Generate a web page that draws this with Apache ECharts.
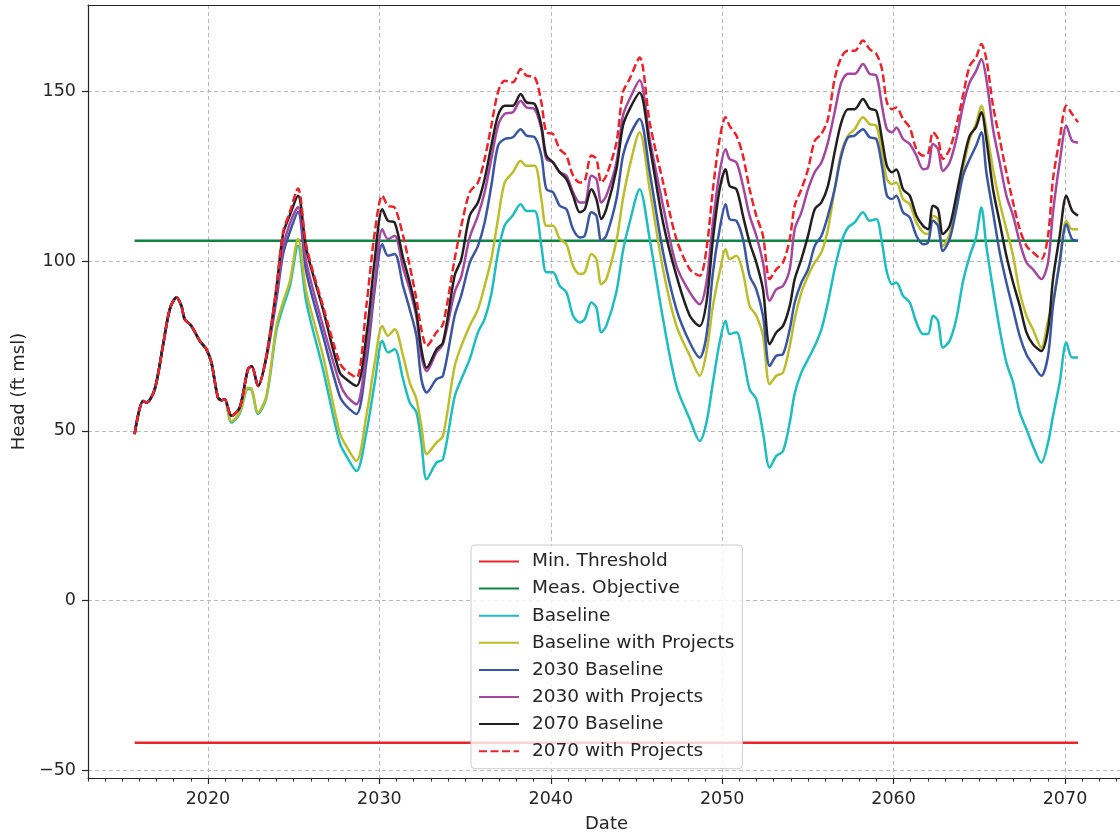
<!DOCTYPE html>
<html>
<head>
<meta charset="utf-8">
<script src="https://cdn.jsdelivr.net/npm/echarts@6/dist/echarts.min.js"></script>
<style>
html,body{margin:0;padding:0;background:#fff;}
#chart{width:1120px;height:840px;}
</style>
</head>
<body>
<div id="chart"></div>
<script>
// ---- data (years as decimal dates) ----
const years = [
2015.72,2016.21,2016.41,2016.89,2017.37,2017.77,2018.16,2018.45,2018.64,2019.03,2019.52,2019.91,2020.20,2020.58,2020.80,2020.97,
2021.37,2021.85,2022.33,2022.55,2022.92,2023.41,2023.99,2024.38,2024.77,2025.25,2025.74,2026.71,2027.68,2028.07,2028.66,2029.24,2029.73,2030.17,2030.50,2030.89,2031.38,2031.77,2032.16,2032.45,2032.76,2033.33,2033.71,
2034.39,2034.78,2035.27,2035.75,2036.14,2036.53,2036.92,2037.31,2037.79,2038.24,2038.58,2039.06,2039.45,2039.74,2040.13,
2040.52,2040.91,2041.30,2041.69,2041.98,2042.37,2042.66,2042.95,2043.24,2043.83,2044.21,2044.60,2045.18,
2045.77,2046.55,2047.33,2048.11,2048.69,2049.08,2049.46,2049.85,2050.20,2050.43,2050.83,2051.21,2051.60,2051.99,2052.38,2052.77,2053.16,2053.55,2053.94,
2054.23,2054.62,2055.01,2055.40,2055.79,2056.17,2056.56,2056.95,2057.34,2057.73,2058.21,2058.60,2058.99,2059.32,2059.61,2059.91,2060.16,
2060.55,2060.94,2061.33,2061.72,2062.01,2062.30,2062.59,2062.88,2063.27,2063.66,2064.05,2064.44,2064.81,
2065.12,2065.41,2065.80,2066.19,2066.58,2066.97,2067.36,2067.75,2068.13,2068.62,2069.01,2069.30,2069.69,2070.08,2070.41,2070.76
];

// shared history before the scenarios diverge
const history = [49.0,58.8,58.3,62.2,75.0,85.8,89.3,86.8,82.9,80.9,76.5,74.0,70.1,59.8,59.0,59.3];

const baseline = history.concat([
52.4,55.0,62.3,62.0,55.0,59.8,79.5,86.5,92.5,104.5,87.8,68.1,46.5,42.6,38.1,49.5,64.2,76.5,73.1,74.0,65.2,58.3,55.4,46.5,35.7,40.6,41.6,
60,65.2,71.1,79.0,82.9,90.3,102.5,110.5,113.5,116.8,114.8,114.8,104.5,96.7,96.7,
92.7,90.8,83.9,81.9,82.9,87.8,86.3,79.0,80.9,91,103,111.4,121.2,
106.5,82.9,63.2,53.4,47.0,52.4,64.2,76.0,82.4,78.5,79.0,72.1,62.2,59.3,49.5,39.1,42.6,44.0,52.4,
61,67.2,71.1,75.0,79.9,87.8,97.6,105.5,109.9,111.4,114.4,111.9,112.4,105.5,96.7,93.2,93.7,
89.8,87.8,81.9,78.5,78.5,83.9,82.4,74.5,76.5,83,94,101.5,107,
115.8,104.5,91.7,79.9,70.1,64.2,55.4,50.5,45.5,40.6,46.5,54.4,64.2,76.0,71.6,71.6
]);

const baselineProjects = history.concat([
52.8,55.4,62.7,62.4,55.4,60.3,80.9,88,94,106.5,90.8,72.1,49.5,45.5,41.1,54.4,70.1,80.9,78.0,79.9,72.1,64.2,59.3,51.4,43.1,46.5,48.5,
69,75,80.9,85.8,92.7,100.6,112.4,123.2,126.2,129.6,128.1,128.1,118.3,110.4,110.4,
106.5,105.0,98.6,96.2,96.7,102.1,100.6,93.2,94.7,106,118.3,128,138.0,
121.2,97.6,80.9,72.1,66.2,73.1,86.8,96.7,103.5,100.6,101.6,96.7,86.8,83.9,78.0,63.7,66.2,67.2,75.0,
82.9,90.8,95.7,99.6,102.6,109.4,121.2,132.1,137.0,138.9,142.4,140.4,139.9,132.1,124.2,122.7,123.2,
118.3,116.8,111.4,108.5,108.0,113.4,112.4,104.5,108.0,117.3,127.1,136.0,140.5,
145.8,138.9,127.1,117.3,109.4,101.6,90.8,83.9,79.9,74.5,82.4,88,99.6,111.9,109.4,109.4
]);

const baseline2030 = history.concat([
54.4,56.8,68.1,69.0,63.2,71.5,88.5,102,108.5,114.5,96.7,78.0,60.3,57.3,54.9,70.1,91.7,105.0,101.6,102.1,92.7,85.8,78,65.2,61.3,65.2,66.2,
83.9,90,99.5,104.5,111.4,122.2,134.0,136.0,136.5,138.9,137.0,136.5,131.1,121.2,120.3,
116.3,115.3,109.4,107.0,107.5,114.4,113.4,106.0,107.5,118.3,131.1,137.0,141.9,
126.2,102.6,85.8,76.0,71.6,78.0,96.7,109.4,116.8,112.4,111.9,106.5,95.7,91.7,83.9,69.1,72.1,72.6,79.9,
87.8,93.7,97.6,104.5,107.5,113.4,121.2,131.1,136.5,137.0,138.9,136.5,136.0,128.1,119.3,118.3,119.3,
114.4,112.9,107.5,105.0,105.5,111.9,110.4,103.0,106.5,115.3,125.2,130.1,134.0,
138.0,126.2,114.4,102.6,93.7,85.8,77.9,72.5,69.5,66.2,72.1,86.8,99.6,110.9,106.5,106.0
]);

const projects2030 = history.concat([
54.4,56.8,68.1,69.0,63.2,71.8,90,104,111,115.9,99.6,80.9,64.2,60.3,57.8,73.1,93.7,109.4,106.5,107.5,98,91.7,83.5,72.1,67.6,73.1,75.5,
90.8,95.5,107,113.4,120.3,130.1,139.9,143.4,143.9,147.3,145.3,144.8,138.9,130.1,129.1,
126.2,125.2,120.3,117.3,117.3,125.2,124.2,117.3,119.3,129.1,142.9,147.8,153.3,
136.0,116.3,98.6,90.8,87.3,93.7,111.4,126.2,133.0,130.1,129.1,122.2,113.4,107.5,99.6,88.3,91.7,92.7,97.6,
109.4,114.4,121.2,126.2,129.1,135.0,143.9,152.7,155.2,155.2,158.1,155.2,154.7,145.8,138.9,138.0,139.4,
136.0,134.5,131.1,127.1,127.6,134.5,133.0,126.6,129.1,136.0,145.8,152.7,156.0,
159.6,153.7,138.9,129.1,119.3,113.4,105.5,99.6,97.6,94.7,99.6,114.4,129.1,139.9,135.5,135.0
]);

const baseline2070 = history.concat([
54.4,56.8,68.1,69.0,63.2,72.1,92,108,113.5,119.3,103.5,85.8,67.2,65.2,63.2,78.0,100.6,115.3,111.9,111.4,101,93.7,85,74.0,68.6,74.0,76,
95.7,100.6,113.4,117.3,124.2,134.0,142.9,145.8,145.8,149.3,146.8,146.3,139.9,131.1,129.1,
126.2,124.2,119.3,114.4,115.3,121.2,118.3,112.4,115.3,127.1,139.9,144.8,149.6,
134.0,111.4,95.7,83.9,80.9,87.8,106.5,121.2,127.1,122.2,121.2,113.4,105.5,99.6,91.7,75.5,79.0,80.9,86.8,
94.7,100.6,107.5,115.3,117.3,122.2,132.1,140.9,144.8,144.8,147.8,145.0,144.3,136.0,128.1,126.2,127.0,
121.2,119.3,113.4,110.4,109.4,116.3,115.3,108.0,110.4,119.3,129.1,137.0,139.5,
143.9,136.0,121.2,111.4,101.6,93.7,86.8,79.0,75.5,73.5,79.9,94.7,107.5,119.3,114.9,113.4
]);

const projects2070 = history.concat([
54.4,56.8,68.1,69.0,63.2,72.1,92,108.5,114.4,121.4,104.5,86.8,70.1,67.6,65.7,86.8,108.5,119.3,116.3,115.8,107.5,98.6,88.8,79.9,75.0,79.0,81.4,
100.6,110.4,120.3,123.2,130.1,139.9,149.8,153.2,152.7,156.6,154.7,154.2,146.8,138.0,137.5,
133.0,131.1,125.2,123.2,123.7,131.1,130.1,123.2,125.2,135.0,149.8,153.7,160.0,
140.9,123.2,106.5,97.6,95.7,103.5,121.2,136.0,142.4,139.9,137.0,131.1,121.2,113.4,107.5,94.7,97.6,99.6,106.5,
116.3,121.2,127.1,135.5,137.5,141.9,153.7,160.1,162.0,162.0,165.0,162.5,161.1,156.6,146.8,144.8,145.3,
141.9,139.4,133.0,131.1,131.6,138.0,136.0,130.1,133.0,139.9,148.8,157.6,160.0,
164.0,159.6,145.8,136.0,126.2,117.3,109.4,104.5,102.6,100.6,107.5,124.2,136.0,145.8,143.4,140.9
]);

const minThreshold = -42;
const measObjective = 106;

const seriesNames = ['Min. Threshold','Meas. Objective','Baseline','Baseline with Projects','2030 Baseline','2030 with Projects','2070 Baseline','2070 with Projects'];
const seriesColors = ['#e8262b','#0e8443','#1dbdc0','#bcbd2b','#3a55a4','#a4479f','#231f20','#ee2229'];

// ---- build ----
const pair = vals => years.map((y, i) => [y, vals[i]]);
const flat = v => [[years[0], v], [years[years.length - 1], v]];
const seriesData = [flat(minThreshold), flat(measObjective), pair(baseline), pair(baselineProjects),
  pair(baseline2030), pair(projects2030), pair(baseline2070), pair(projects2070)];

const FONT = 'DejaVu Sans';
const TXT = '#262626';
const AX = '#262626';
const XMIN = 2013, XMAX = 2073.5;

const series = seriesNames.map((name, i) => ({
  name: name,
  type: 'line',
  xAxisIndex: 0,
  data: seriesData[i],
  symbol: 'none',
  showSymbol: false,
  smooth: i >= 2 ? 0.3 : false,
  color: seriesColors[i],
  lineStyle: {color: seriesColors[i], width: 2.5, type: i === 7 ? [8, 3.5] : 'solid'},
  emphasis: {disabled: true},
  silent: true,
  z: 2 + i
}));

const chart = echarts.init(document.getElementById('chart'), null, {renderer: 'canvas'});
chart.setOption({
  animation: false,
  backgroundColor: '#ffffff',
  grid: {left: 88, top: 5, bottom: 62, right: -5, show: false, containLabel: false, outerBoundsMode: 'none'},
  legend: {
    orient: 'vertical', left: 471, top: 545,
    padding: [7, 8, 8, 7],
    itemWidth: 40, itemHeight: 18, itemGap: 8.1,
    backgroundColor: 'rgba(255,255,255,0.8)',
    borderColor: '#cccccc', borderWidth: 1, borderRadius: 4,
    itemStyle: {opacity: 0},
    textStyle: {fontFamily: FONT, fontSize: 18.5, color: TXT, lineHeight: 18, padding: [0, 0, 0, 8]},
    data: seriesNames,
    selectedMode: false,
    z: 20
  },
  xAxis: [{
    type: 'value', min: XMIN, max: XMAX, splitNumber: 6,
    position: 'bottom',
    name: 'Date', nameLocation: 'middle', nameGap: 37,
    nameTextStyle: {fontFamily: FONT, fontSize: 18, color: TXT},
    axisLine: {show: true, onZero: false, lineStyle: {color: AX, width: 1.2}},
    axisTick: {show: true, inside: false, length: 6, lineStyle: {color: AX, width: 1.2}},
    axisLabel: {fontFamily: FONT, fontSize: 17.5, color: TXT, margin: 12, showMinLabel: false, showMaxLabel: false,
      formatter: v => (Math.abs(v - Math.round(v)) < 1e-6 && Math.round(v) % 10 === 0) ? String(Math.round(v)) : ''},
    splitLine: {show: true, lineStyle: {color: '#b8b8b8', width: 1, type: [4, 3]}}
  }, {
    type: 'value', min: XMIN, max: XMAX, interval: 1,
    position: 'bottom',
    axisLine: {show: false, onZero: false},
    axisTick: {show: true, inside: false, length: 3.5, lineStyle: {color: AX, width: 1}},
    axisLabel: {show: false},
    splitLine: {show: false}
  }, {
    type: 'value', min: XMIN, max: XMAX,
    position: 'top',
    axisLine: {show: true, onZero: false, lineStyle: {color: AX, width: 1.2}},
    axisTick: {show: false},
    axisLabel: {show: false},
    splitLine: {show: false}
  }],
  yAxis: {
    type: 'value', min: -52.36, max: 175.5, splitNumber: 5,
    name: 'Head (ft msl)', nameLocation: 'middle', nameGap: 60, nameRotate: 90,
    nameTextStyle: {fontFamily: FONT, fontSize: 18, color: TXT},
    axisLine: {show: true, onZero: false, lineStyle: {color: AX, width: 1.2}},
    axisTick: {show: true, inside: false, length: 6, lineStyle: {color: AX, width: 1.2}},
    axisLabel: {fontFamily: FONT, fontSize: 17.5, color: TXT, margin: 12, showMinLabel: false, showMaxLabel: false,
      formatter: v => (Math.abs(v % 50) < 1e-6) ? (v < 0 ? '\u2212' + Math.abs(v) : String(v)) : ''},
    splitLine: {show: true, lineStyle: {color: '#b8b8b8', width: 1, type: [4, 3]}}
  },
  series: series
});
</script>
</body>
</html>
